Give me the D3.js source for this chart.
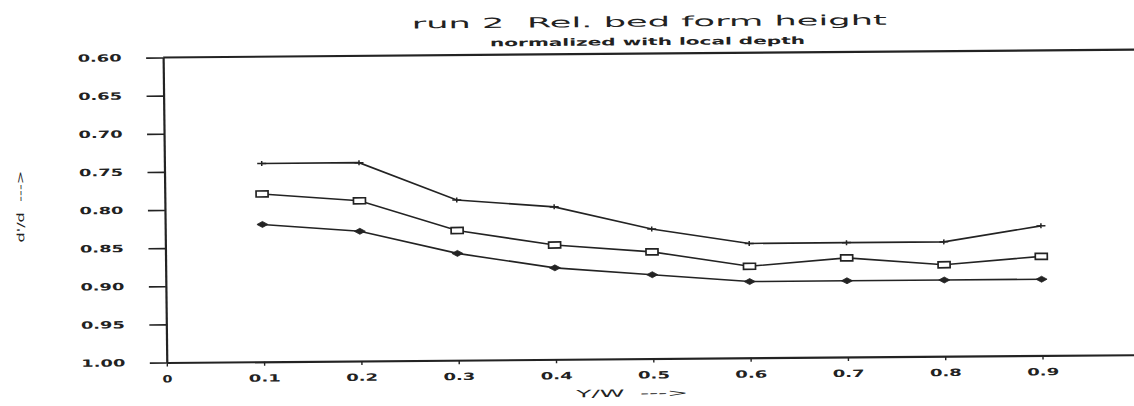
<!DOCTYPE html>
<html>
<head>
<meta charset="utf-8">
<script src="https://cdn.jsdelivr.net/npm/d3@7"></script>
<style>
  html, body { margin: 0; padding: 0; background: #fff; }
  svg { display: block; }
  text { font-family: "DejaVu Sans", sans-serif; fill: #222; white-space: pre; }
</style>
</head>
<body>
<svg id="chart" width="1134" height="406"></svg>
<script>
// Relative bed form height across the channel (Y/W), three profiles
const positions      = [0.1, 0.2, 0.3, 0.4, 0.5, 0.6, 0.7, 0.8, 0.9];
const seriesPlus     = [0.74, 0.74, 0.79, 0.80, 0.83, 0.85, 0.85, 0.85, 0.83];
const seriesSquare   = [0.78, 0.79, 0.83, 0.85, 0.86, 0.88, 0.87, 0.88, 0.87];
const seriesDiamond  = [0.82, 0.83, 0.86, 0.88, 0.89, 0.90, 0.90, 0.90, 0.90];
const yTicks = [0.60, 0.65, 0.70, 0.75, 0.80, 0.85, 0.90, 0.95, 1.00];
const xTicks = [0, 0.1, 0.2, 0.3, 0.4, 0.5, 0.6, 0.7, 0.8, 0.9];
const titleText    = "run 2  Rel. bed form height";
const subtitleText = "normalized with local depth";
const yLabelText   = "d'/d  --->";
const xLabelText   = "Y/W  --->";

const ink = "#232323";
const svg = d3.select("#chart");

// plotter sheet sits slightly askew on the page
const root = svg.append("g")
  .attr("transform", "matrix(1,-0.008,0.012,1,-2.52,4.8)");

const x = d3.scaleLinear().domain([0, 1]).range([165, 1138]);
const y = d3.scaleLinear().domain([0.6, 1.0]).range([54, 359]);

// top frame line
root.append("line")
  .attr("x1", x(0)).attr("x2", x(1))
  .attr("y1", y(0.6)).attr("y2", y(0.6))
  .attr("stroke", ink).attr("stroke-width", 2.2);

// left axis
const yAxis = root.append("g")
  .attr("transform", `translate(${x(0)},0)`)
  .call(d3.axisLeft(y).tickValues(yTicks).tickSize(17).tickSizeOuter(0)
        .tickPadding(24.5).tickFormat(d3.format(".2f")));
yAxis.select(".domain").attr("stroke", ink).attr("stroke-width", 2.2);
yAxis.selectAll(".tick line").attr("stroke", ink).attr("stroke-width", 1.6);
yAxis.selectAll(".tick text")
  .attr("font-size", 10).attr("font-weight", "bold").attr("fill", ink)
  .attr("textLength", 44).attr("lengthAdjust", "spacingAndGlyphs");

// bottom axis
const xAxis = root.append("g")
  .attr("transform", `translate(0,${y(1.0)})`)
  .call(d3.axisBottom(x).tickValues(xTicks).tickSize(4).tickSizeOuter(0)
        .tickFormat(d => d === 0 ? "0" : d3.format(".1f")(d)));
xAxis.select(".domain").attr("stroke", ink).attr("stroke-width", 2.2);
xAxis.selectAll(".tick line").attr("stroke", ink).attr("stroke-width", 1.4);
xAxis.selectAll(".tick text")
  .attr("font-size", 10).attr("font-weight", "bold").attr("fill", ink)
  .attr("y", 16.3).attr("dy", "0.36em")
  .attr("textLength", d => d === 0 ? 10 : 32)
  .attr("lengthAdjust", "spacingAndGlyphs");
root.selectAll(".tick text").style("font-family", "\"DejaVu Sans\", sans-serif");

// titles
root.append("text")
  .attr("x", 414).attr("y", 27)
  .attr("font-size", 14)
  .attr("textLength", 475).attr("lengthAdjust", "spacingAndGlyphs")
  .text(titleText);
root.append("text")
  .attr("x", 492).attr("y", 45.5)
  .attr("font-size", 10).attr("font-weight", "bold")
  .attr("textLength", 315).attr("lengthAdjust", "spacingAndGlyphs")
  .text(subtitleText);

// axis labels
root.append("text")
  .attr("transform", "translate(24,238) rotate(-90)")
  .attr("font-size", 10)
  .attr("textLength", 72).attr("lengthAdjust", "spacingAndGlyphs")
  .text(yLabelText);
root.append("text")
  .attr("x", 574).attr("y", 397)
  .attr("font-size", 10)
  .attr("textLength", 112).attr("lengthAdjust", "spacingAndGlyphs")
  .text(xLabelText);

// profiles
const line = d3.line()
  .x((d, i) => x(positions[i]))
  .y(d => y(d));

const series = [
  { values: seriesPlus,    marker: "plus" },
  { values: seriesSquare,  marker: "square" },
  { values: seriesDiamond, marker: "diamond" }
];

series.forEach(s => {
  root.append("path")
    .datum(s.values)
    .attr("d", line)
    .attr("fill", "none")
    .attr("stroke", ink)
    .attr("stroke-width", 1.6);

  const g = root.append("g").selectAll("g")
    .data(s.values)
    .join("g")
    .attr("transform", (d, i) => `translate(${x(positions[i])},${y(d)})`);

  if (s.marker === "plus") {
    g.append("path").attr("d", "M-4.5,0H4.5M0,-2.5V2.5")
      .attr("stroke", ink).attr("stroke-width", 1.5).attr("fill", "none");
  } else if (s.marker === "square") {
    g.append("rect").attr("x", -6).attr("y", -3).attr("width", 12).attr("height", 6)
      .attr("fill", "#fff").attr("stroke", ink).attr("stroke-width", 1.7);
  } else {
    g.append("path").attr("d", "M-5.5,0L0,-3L5.5,0L0,3Z")
      .attr("fill", ink).attr("stroke", ink).attr("stroke-width", 0.8);
  }
});
</script>
</body>
</html>
